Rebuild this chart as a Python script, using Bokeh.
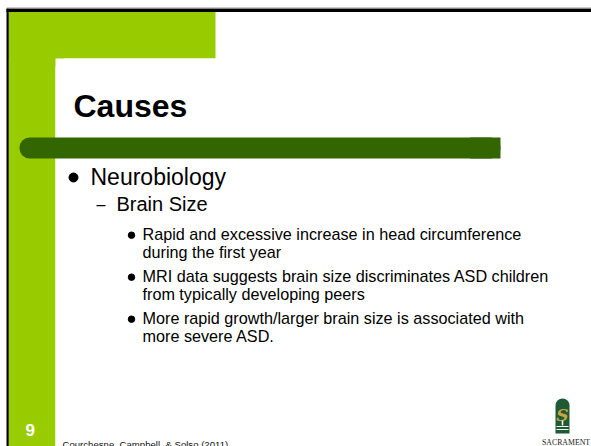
from bokeh.plotting import figure
from bokeh.models import Range1d
from bokeh.embed import file_html
from bokeh.resources import INLINE
from bokeh.core.properties import value

# ---------------- content ----------------
TITLE = "Causes"
LEVEL1_ITEMS = ["Neurobiology"]
LEVEL2_ITEMS = ["Brain Size"]
LEVEL3_ITEMS = [
    ["Rapid and excessive increase in head circumference", "during the first year"],
    ["MRI data suggests brain size discriminates ASD children", "from typically developing peers"],
    ["More rapid growth/larger brain size is associated with", "more severe ASD."],
]
SLIDE_NUMBER = "9"
CITATION = "Courchesne, Campbell, & Solso (2011)"
LOGO_LETTER = "S"
LOGO_TEXT = "SACRAMENT"

# ---------------- colours ----------------
LIGHT_GREEN = "#99cc00"
DARK_GREEN = "#336600"
LOGO_GREEN = "#1d5a35"
GOLD = "#c8a442"
FONT = value("Liberation Sans")

W, H = 591, 446
p = figure(width=W, height=H,
           x_range=Range1d(0, W), y_range=Range1d(H, 0),
           output_backend="svg", toolbar_location=None,
           x_axis_location=None, y_axis_location=None, min_border=0)
p.grid.visible = False
p.outline_line_color = None
p.background_fill_color = "white"
p.border_fill_color = "white"


def mid(baseline, size):
    # anchor for text_baseline="middle" so that the alphabetic baseline lands on `baseline`
    return baseline - 0.346 * size


def txt(xs, baselines, texts, size, **kw):
    p.text(x=xs, y=[mid(b, size) for b in baselines], text=texts,
           text_font=kw.pop("font", FONT), text_font_size=f"{size}px",
           text_baseline="middle", **kw)


# green L-shaped frame
p.quad(left=[8, 8], right=[55, 215], top=[11, 11], bottom=[460, 58],
       fill_color=LIGHT_GREEN, line_color=None)
# white content panel with rounded top-left corner
p.quad(left=[55], right=[900], top=[58], bottom=[900], border_radius=10,
       fill_color="white", line_color=None)
# frame lines
p.quad(left=[6], right=[600], top=[7], bottom=[8.3], fill_color="#9a9a9a", line_color=None)
p.quad(left=[6], right=[600], top=[8.3], bottom=[11.5], fill_color="black", line_color=None)
p.quad(left=[6], right=[8.2], top=[8.3], bottom=[460], fill_color="black", line_color=None)

# dark green title bar (rounded left end)
p.quad(left=[19], right=[500], top=[137], bottom=[158], border_radius=10,
       fill_color=DARK_GREEN, line_color=None)
p.quad(left=[470], right=[500], top=[137], bottom=[158],
       fill_color=DARK_GREEN, line_color=None)

# title
txt([73], [117], [TITLE], 32, text_font_style="bold", text_color="black")

# level 1
l1_base = [184]
p.scatter(x=[73] * len(LEVEL1_ITEMS), y=[b - 7 for b in l1_base], size=9,
          marker="circle", color="black")
txt([90] * len(LEVEL1_ITEMS), l1_base, LEVEL1_ITEMS, 23, text_color="black")

# level 2
l2_base = [210]
txt([96] * len(LEVEL2_ITEMS), l2_base, ["\u2013"] * len(LEVEL2_ITEMS), 16, text_color="black")
txt([116] * len(LEVEL2_ITEMS), l2_base, LEVEL2_ITEMS, 20, text_color="black")

# level 3
first_base = 239
line_pitch = 18
para_pitch = 42
xs, bs, tx, bx, by = [], [], [], [], []
for i, item in enumerate(LEVEL3_ITEMS):
    base = first_base + i * para_pitch
    bx.append(131)
    by.append(base - 4.3)
    for j, line in enumerate(item):
        xs.append(142)
        bs.append(base + j * line_pitch)
        tx.append(line)
p.scatter(x=bx, y=by, size=6.5, marker="circle", color="black")
txt(xs, bs, tx, 16.2, text_color="black")

# footer
txt([25], [435], [SLIDE_NUMBER], 17, text_font_style="bold", text_color="white")
txt([62], [447.5], [CITATION], 9.6, text_color="#111111")

# logo
p.quad(left=[555], right=[569], top=[398], bottom=[433], border_radius=(7, 7, 0, 0),
       fill_color=LOGO_GREEN, line_color=None)
p.text(x=[562], y=[mid(420, 17)], text=[LOGO_LETTER], text_font=value("DejaVu Serif"),
       text_font_size="17px", text_font_style="bold italic", text_color=GOLD,
       text_align="center", text_baseline="middle")
p.segment(x0=[562], y0=[420], x1=[562], y1=[425], line_color="white", line_width=1.5)
p.segment(x0=[556, 556], y0=[426, 429], x1=[568, 568], y1=[426, 429],
          line_color="white", line_width=1)
txt([541.5], [444.5], [LOGO_TEXT], 7.8, font=value("Liberation Serif"), text_color="#222222")

open("out.html", "w").write(file_html(p, INLINE))
